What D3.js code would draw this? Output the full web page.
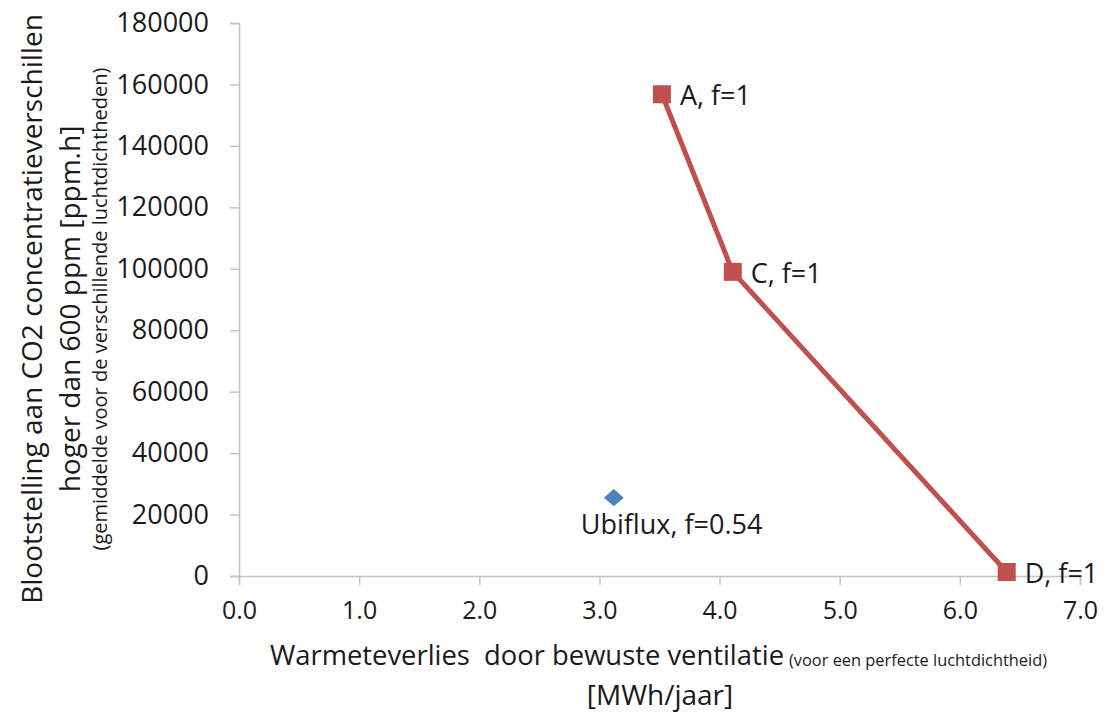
<!DOCTYPE html>
<html>
<head>
<meta charset="utf-8">
<script src="https://cdn.jsdelivr.net/npm/d3@7"></script>
<style>
  body { margin: 0; background: #fff; }
  text { fill: #1a1a1a; }
</style>
</head>
<body>
<div id="chart"></div>
<script>
// series: scenarios A, C, D (line) and Ubiflux (single point)
const lineLabels = ["A, f=1", "C, f=1", "D, f=1"];
const lineX = [3.52, 4.11, 6.39];
const lineY = [156800, 99000, 1300];
const ubiLabels = ["Ubiflux, f=0.54"];
const ubiX = [3.12];
const ubiY = [25500];
const xTicks = [0, 1, 2, 3, 4, 5, 6, 7];
const yTicks = [0, 20000, 40000, 60000, 80000, 100000, 120000, 140000, 160000, 180000];

const W = 1108, H = 718;
const margin = {left: 239, right: 28, top: 23, bottom: 142};
const font = "'Open Sans', 'DejaVu Sans', sans-serif";

const svg = d3.select("#chart").append("svg").attr("width", W).attr("height", H)
    .style("font-family", font);

const x = d3.scaleLinear().domain([0, 7]).range([margin.left, W - margin.right]);
const y = d3.scaleLinear().domain([0, 180000]).range([H - margin.bottom, margin.top]);

let xAxis = svg.append("g").attr("transform", "translate(0," + y(0) + ")")
    .call(d3.axisBottom(x).tickValues(xTicks).tickFormat(d3.format(".1f")).tickSize(9).tickPadding(16));
xAxis.selectAll("text").style("font-family", font).style("font-size", "25px");

let yAxis = svg.append("g").attr("transform", "translate(" + x(0) + ",0)")
    .call(d3.axisLeft(y).tickValues(yTicks).tickFormat(d3.format("d")).tickSize(9).tickPadding(21));
yAxis.selectAll("text").style("font-family", font).style("font-size", "27px");

svg.selectAll(".domain, .tick line").attr("stroke", "#c4c4c4").attr("stroke-width", 1.5);

// red line series
const pts = lineX.map((v, i) => ({x: v, y: lineY[i], label: lineLabels[i]}));
svg.append("path").datum(pts)
    .attr("fill", "none").attr("stroke", "#c0504d").attr("stroke-width", 5)
    .attr("d", d3.line().x(d => x(d.x)).y(d => y(d.y)));
svg.selectAll(".sq").data(pts).enter().append("rect")
    .attr("x", d => x(d.x) - 9).attr("y", d => y(d.y) - 9)
    .attr("width", 18).attr("height", 18).attr("fill", "#c0504d");
svg.selectAll(".lbl").data(pts).enter().append("text")
    .attr("x", d => x(d.x) + 18).attr("y", d => y(d.y) + 11)
    .style("font-size", "27px")
    .text(d => d.label);

// Ubiflux point
const ubi = ubiX.map((v, i) => ({x: v, y: ubiY[i], label: ubiLabels[i]}));
svg.selectAll(".dia").data(ubi).enter().append("path")
    .attr("transform", d => "translate(" + x(d.x) + "," + y(d.y) + ") scale(1.15,1)")
    .attr("d", d3.symbol().type(d3.symbolDiamond2).size(190))
    .attr("fill", "#4f81bd");
svg.selectAll(".ulbl").data(ubi).enter().append("text")
    .attr("x", d => x(d.x) - 33).attr("y", d => y(d.y) + 36)
    .style("font-size", "27px")
    .text(d => d.label);

// axis titles
const yt = svg.append("g").attr("transform", "translate(0,309) rotate(-90)");
yt.append("text").attr("x", 0).attr("y", 42).attr("text-anchor", "middle")
    .style("font-size", "28px")
    .text("Blootstelling aan CO2 concentratieverschillen");
yt.append("text").attr("x", 0).attr("y", 80).attr("text-anchor", "middle")
    .style("font-size", "28px")
    .text("hoger dan 600 ppm [ppm.h]");
yt.append("text").attr("x", 0).attr("y", 107).attr("text-anchor", "middle")
    .style("font-size", "20px")
    .text("(gemiddelde voor de verschillende luchtdichtheden)");

svg.append("text").attr("x", 270).attr("y", 665)
    .attr("xml:space", "preserve").style("white-space", "pre")
    .attr("textLength", 514).attr("lengthAdjust", "spacingAndGlyphs")
    .style("font-size", "28px").text("Warmeteverlies  door bewuste ventilatie");
svg.append("text").attr("x", 789).attr("y", 666)
    .attr("textLength", 258).attr("lengthAdjust", "spacingAndGlyphs")
    .style("font-size", "16.5px").text("(voor een perfecte luchtdichtheid)");
svg.append("text").attr("x", 660).attr("y", 705).attr("text-anchor", "middle")
    .style("font-size", "28px")
    .text("[MWh/jaar]");
</script>
</body>
</html>
